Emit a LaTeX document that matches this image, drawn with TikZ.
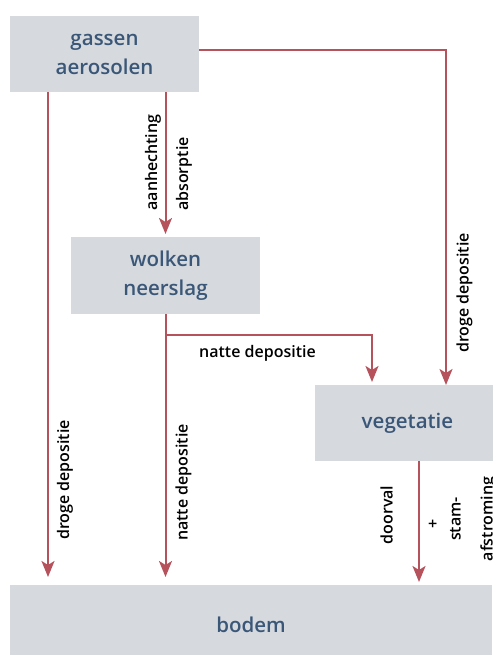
\documentclass[tikz,border=0pt]{standalone}
\usepackage{fontspec}
\IfFontExistsTF{Open Sans Semibold}{\setmainfont{Open Sans Semibold}}{%
  \IfFontExistsTF{OpenSans-Semibold.otf}{\setmainfont{OpenSans-Semibold.otf}}{%
    \IfFontExistsTF{OpenSans-SemiBold.ttf}{\setmainfont{OpenSans-SemiBold.ttf}}{%
      \setmainfont{Open Sans}[FakeBold=2.5]}}}
\usetikzlibrary{arrows.meta}
\definecolor{boxgray}{HTML}{D6DADF}
\definecolor{boxtext}{HTML}{3B5778}
\definecolor{flowred}{HTML}{B5525C}
\begin{document}
\begin{tikzpicture}[x=1pt,y=1pt,
    box/.style={fill=boxgray,text=boxtext,align=center,inner sep=0pt,outer sep=0pt,
      font=\fontsize{20.5}{29}\selectfont},
    flow/.style={draw=flowred,line width=2pt,-{Stealth[length=16pt,width=13pt,inset=4pt]}},
    lbl/.style={inner sep=0pt,font=\fontsize{16}{18}\selectfont},
    vlbl/.style={lbl,rotate=90}]
    \useasboundingbox (0,0) rectangle (492,655);
    % boxes
    \node[box,minimum width=189pt,minimum height=76pt] (gassen) at (104.5,601) {gassen\\aerosolen};
    \node[box,minimum width=189pt,minimum height=77pt] (wolken) at (165.5,379.5) {wolken\\neerslag};
    \node[box,minimum width=185pt,minimum height=76pt] (vegetatie) at (407.5,232) {vegetatie};
    \node[box,minimum width=482pt,minimum height=80pt] (bodem) at (251,30) {bodem};
    % connectors
    \draw[flow] ([yshift=4pt]gassen.east) -| ([xshift=38.5pt]vegetatie.north);
    \draw[flow,shorten >=8pt] ([xshift=-56.5pt]gassen.south) -- ([xshift=-56.5pt]gassen.south |- bodem.north);
    \draw[flow,shorten >=3pt] (gassen.south -| wolken.north) -- (wolken.north);
    \draw[flow,shorten >=8pt] (wolken.south) -- (wolken.south |- bodem.north);
    \draw[flow,shorten >=3pt] ([yshift=-21pt]wolken.south) -| ([xshift=-35.5pt]vegetatie.north);
    \draw[flow,shorten >=3pt] ([xshift=11.5pt]vegetatie.south) -- ([xshift=11.5pt]vegetatie.south |- bodem.north);
    % labels
    \node[vlbl] (aanh) at (153,492.5) {aanhechting};
    \node[vlbl] (absorp) at (184,481) {absorptie};
    \node[lbl] (nat1) at (257.5,301.5) {natte depositie};
    \node[vlbl] (droog1) at (65,175) {droge depositie};
    \node[vlbl] (nat2) at (183.5,172.5) {natte depositie};
    \node[vlbl] (droog2) at (464.5,362) {droge depositie};
    \node[vlbl] (doorval) at (386.5,140) {doorval};
    \node[vlbl] (plus) at (433.5,131) {+};
    \node[vlbl] (stam) at (455.5,136) {stam-};
    \node[vlbl] (afstr) at (488.5,136) {afstroming};
\end{tikzpicture}
\end{document}
